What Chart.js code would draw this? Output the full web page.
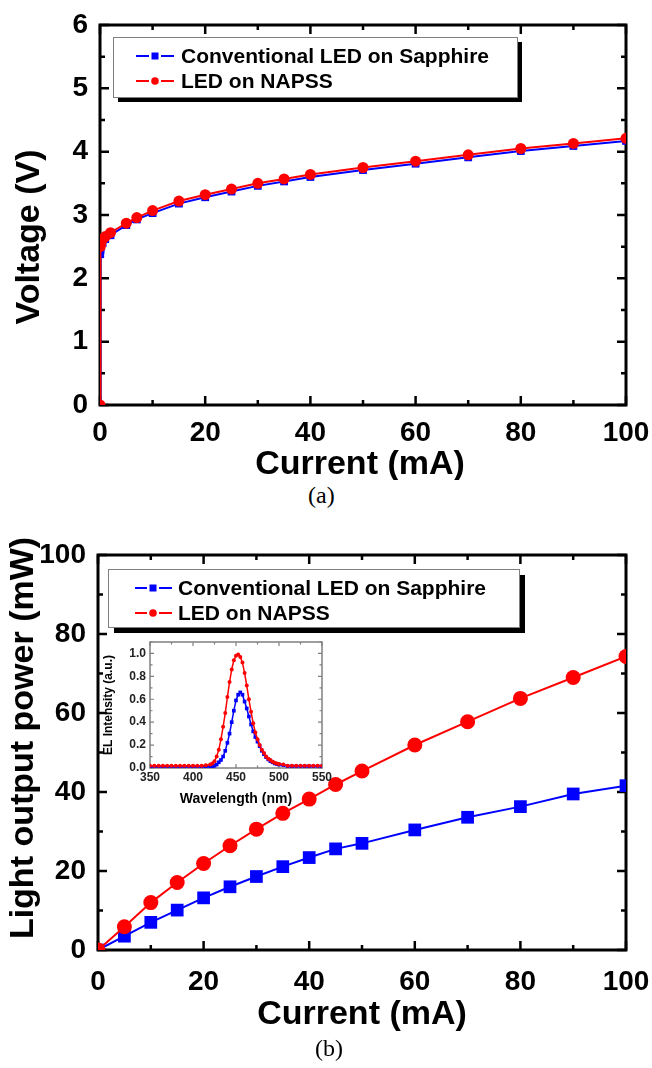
<!DOCTYPE html>
<html>
<head>
<meta charset="utf-8">
<script src="https://cdn.jsdelivr.net/npm/chart.js@4.4.0/dist/chart.umd.min.js"></script>
<style>
body { margin: 0; background: #fff; }
#page { position: relative; width: 652px; height: 1068px; overflow: hidden; }
canvas { position: absolute; }
.cap { position: absolute; font: 24px "Liberation Serif", "Times New Roman", serif; color: #000; }
</style>
</head>
<body>
<div id="page">
  <canvas id="ivChart" width="652" height="480" style="left:0;top:0"></canvas>
  <canvas id="liChart" width="652" height="520" style="left:0;top:520px"></canvas>
  <canvas id="elChart" width="240" height="180" style="left:95px;top:632px"></canvas>
  <div class="cap" style="left:308px;top:482px">(a)</div>
  <div class="cap" style="left:315px;top:1035px">(b)</div>
</div>
<script>
// (a) I-V
const currentIV = [0, 0.05, 0.1, 0.2, 0.5, 1, 2, 5, 7, 10, 15, 20, 25, 30, 35, 40, 50, 60, 70, 80, 90, 100];
const voltSapphire = [0, 2.38, 2.45, 2.50, 2.56, 2.62, 2.68, 2.84, 2.93, 3.03, 3.18, 3.28, 3.37, 3.46, 3.53, 3.60, 3.71, 3.81, 3.91, 4.01, 4.09, 4.17];
const voltNapss = [0, 2.50, 2.55, 2.58, 2.62, 2.66, 2.72, 2.87, 2.96, 3.07, 3.22, 3.32, 3.41, 3.50, 3.57, 3.64, 3.75, 3.85, 3.95, 4.05, 4.13, 4.21];

// (b) L-I
const currentLI = [0, 5, 10, 15, 20, 25, 30, 35, 40, 45, 50, 60, 70, 80, 90, 100];
const powerSapphire = [0, 3.5, 7.0, 10.1, 13.2, 16.0, 18.6, 21.1, 23.4, 25.6, 27.0, 30.4, 33.6, 36.3, 39.5, 41.6];
const powerNapss = [0, 5.9, 12.0, 17.1, 21.9, 26.4, 30.6, 34.6, 38.2, 41.9, 45.3, 51.9, 57.8, 63.7, 69.0, 74.3];

// inset EL spectrum
const wavelength = [350, 355, 360, 365, 370, 375, 380, 385, 390, 395, 400, 405, 410, 415, 420,
  422.5, 425, 427.5, 430, 432.5, 435, 437.5, 440, 442.5, 445, 447.5, 450, 452.5, 455, 457.5, 460,
  462.5, 465, 467.5, 470, 472.5, 475, 477.5, 480, 482.5, 485, 487.5, 490, 492.5, 495, 497.5, 500,
  505, 510, 515, 520, 525, 530, 535, 540, 545, 550];
const elSapphire = [0.01, 0.01, 0.01, 0.01, 0.01, 0.01, 0.01, 0.01, 0.01, 0.01, 0.01, 0.01, 0.01, 0.01, 0.012,
  0.015, 0.02, 0.03, 0.05, 0.07, 0.10, 0.15, 0.22, 0.30, 0.40, 0.50, 0.59, 0.64, 0.66, 0.64, 0.58,
  0.52, 0.45, 0.38, 0.32, 0.27, 0.23, 0.19, 0.15, 0.12, 0.095, 0.075, 0.06, 0.05, 0.04, 0.035, 0.03,
  0.025, 0.015, 0.015, 0.015, 0.015, 0.015, 0.015, 0.015, 0.015, 0.015];
const elNapss = [0.02, 0.02, 0.02, 0.02, 0.02, 0.02, 0.02, 0.02, 0.02, 0.02, 0.02, 0.02, 0.02, 0.025, 0.03,
  0.04, 0.06, 0.10, 0.16, 0.25, 0.36, 0.48, 0.62, 0.75, 0.86, 0.94, 0.98, 0.99, 0.97, 0.92, 0.83,
  0.72, 0.60, 0.49, 0.39, 0.31, 0.25, 0.20, 0.16, 0.13, 0.10, 0.08, 0.07, 0.055, 0.045, 0.04, 0.035,
  0.03, 0.02, 0.02, 0.02, 0.02, 0.02, 0.02, 0.02, 0.02, 0.02];

const BLUE = '#0000ff';
const RED = '#ff0000';
const FONT = '"Liberation Sans", Arial, sans-serif';

const pts = (xs, ys) => xs.map((x, i) => ({ x: x, y: ys[i] }));

// frame + inward ticks under the data, titles + boxed legend on top
const boxPlugin = {
  id: 'box',
  beforeDatasetsDraw(chart, args, o) {
    const ctx = chart.ctx;
    const a = chart.chartArea;
    const x = chart.scales.x, y = chart.scales.y;
    ctx.save();
    ctx.strokeStyle = o.color;
    ctx.lineWidth = o.tick;
    ctx.beginPath();
    x.ticks.forEach(t => {
      const px = x.getPixelForValue(t.value);
      const len = t.label !== '' ? o.major : o.minor;
      ctx.moveTo(px, a.bottom); ctx.lineTo(px, a.bottom - len);
      ctx.moveTo(px, a.top); ctx.lineTo(px, a.top + len);
    });
    y.ticks.forEach(t => {
      const py = y.getPixelForValue(t.value);
      const len = t.label !== '' ? o.major : o.minor;
      ctx.moveTo(a.left, py); ctx.lineTo(a.left + len, py);
      ctx.moveTo(a.right, py); ctx.lineTo(a.right - len, py);
    });
    ctx.stroke();
    ctx.lineWidth = o.frame;
    ctx.strokeRect(a.left, a.top, a.right - a.left, a.bottom - a.top);
    ctx.restore();
  },
  afterDraw(chart, args, o) {
    const ctx = chart.ctx;
    ctx.save();
    ctx.fillStyle = '#000';
    ctx.textAlign = 'center';
    ctx.textBaseline = 'middle';
    o.titles.forEach(t => {
      ctx.save();
      ctx.font = t.font;
      ctx.translate(t.x, t.y);
      if (t.rot) ctx.rotate(-Math.PI / 2);
      ctx.fillText(t.text, 0, 0);
      ctx.restore();
    });

    const L = o.legend;
    if (L) {
      ctx.fillStyle = '#000';
      ctx.fillRect(L.x + L.shadow, L.y + L.shadow, L.w, L.h);
      ctx.fillStyle = '#fff';
      ctx.fillRect(L.x, L.y, L.w, L.h);
      ctx.strokeStyle = '#808080';
      ctx.lineWidth = 1;
      ctx.strokeRect(L.x + 0.5, L.y + 0.5, L.w, L.h);
      chart.data.datasets.forEach((ds, i) => {
        const yy = L.rows[i];
        ctx.strokeStyle = ds.borderColor;
        ctx.lineWidth = 2;
        ctx.beginPath();
        ctx.moveTo(L.x1, yy); ctx.lineTo(L.mx - 6, yy);
        ctx.moveTo(L.mx + 6, yy); ctx.lineTo(L.x2, yy);
        ctx.stroke();
        ctx.fillStyle = ds.borderColor;
        if (ds.pointStyle === 'rect') {
          ctx.fillRect(L.mx - 3.5, yy - 3.5, 7, 7);
        } else {
          ctx.beginPath(); ctx.arc(L.mx, yy, 3.8, 0, Math.PI * 2); ctx.fill();
        }
        ctx.fillStyle = '#000';
        ctx.font = L.font;
        ctx.textAlign = 'left';
        ctx.fillText(ds.label, L.tx, yy + 1);
      });
    }
    ctx.restore();
  }
};

function series(label, data, color, style, r, bw, order) {
  return {
    label: label, data: data, borderColor: color, backgroundColor: color,
    pointStyle: style, pointRadius: r, pointHoverRadius: r, pointBorderWidth: 0,
    borderWidth: bw, tension: 0, order: order
  };
}

function axes(xo, yo) {
  const base = (s, fit, key) => ({
    type: 'linear', min: s.min, max: s.max,
    grid: { display: false, drawTicks: false }, border: { display: false },
    afterFit: sc => {
      sc[key] = fit;
      sc.paddingLeft = 0; sc.paddingRight = 0; sc.paddingTop = 0; sc.paddingBottom = 0;
    },
    ticks: {
      stepSize: s.step, autoSkip: false, maxRotation: 0, padding: s.pad, color: s.color || '#000',
      font: { family: FONT, size: s.size, weight: 'bold' },
      callback: s.label
    }
  });
  return { x: base(xo, xo.fit, 'height'), y: base(yo, yo.fit, 'width') };
}

const every = n => v => (Math.abs(v / n - Math.round(v / n)) < 1e-6 ? String(Math.round(v)) : '');

Chart.defaults.animation = false;

new Chart(document.getElementById('ivChart'), {
  type: 'line',
  data: {
    datasets: [
      series('Conventional LED on Sapphire', pts(currentIV, voltSapphire), BLUE, 'rect', 5.5, 2, 1),
      series('LED on NAPSS', pts(currentIV, voltNapss), RED, 'circle', 5.5, 2, 0)
    ]
  },
  options: {
    responsive: false,
    layout: { padding: { top: 25, right: 26, left: 0, bottom: 0 } },
    scales: axes(
      { min: 0, max: 100, step: 10, pad: 11, size: 28, fit: 75, label: every(20) },
      { min: 0, max: 6, step: 0.5, pad: 12, size: 28, fit: 100, label: every(1) }
    ),
    plugins: {
      legend: { display: false },
      tooltip: { enabled: false },
      box: {
        color: '#000', frame: 3, tick: 2.5, major: 9, minor: 5,
        titles: [
          { text: 'Voltage (V)', x: 30, y: 237, rot: true, font: 'bold 34px ' + FONT },
          { text: 'Current (mA)', x: 360, y: 465, font: 'bold 34px ' + FONT }
        ],
        legend: { x: 113, y: 37, w: 404, h: 60, shadow: 5, rows: [56, 81],
          x1: 136, x2: 174, mx: 155, tx: 181, font: 'bold 21px ' + FONT }
      }
    }
  },
  plugins: [boxPlugin]
});

new Chart(document.getElementById('liChart'), {
  type: 'line',
  data: {
    datasets: [
      series('Conventional LED on Sapphire', pts(currentLI, powerSapphire), BLUE, 'rect', 9, 2, 1),
      series('LED on NAPSS', pts(currentLI, powerNapss), RED, 'circle', 7.5, 2, 0)
    ]
  },
  options: {
    responsive: false,
    layout: { padding: { top: 35, right: 26, left: 0, bottom: 0 } },
    scales: axes(
      { min: 0, max: 100, step: 10, pad: 15, size: 28, fit: 90, label: every(20) },
      { min: 0, max: 100, step: 10, pad: 12, size: 28, fit: 98, label: every(20) }
    ),
    plugins: {
      legend: { display: false },
      tooltip: { enabled: false },
      box: {
        color: '#000', frame: 3, tick: 2.5, major: 9, minor: 5,
        titles: [
          { text: 'Light output power (mW)', x: 24, y: 218, rot: true, font: 'bold 34px ' + FONT },
          { text: 'Current (mA)', x: 362, y: 495, font: 'bold 34px ' + FONT }
        ],
        legend: { x: 108, y: 49, w: 411, h: 58, shadow: 6, rows: [68, 93],
          x1: 135, x2: 172, mx: 153, tx: 178, font: 'bold 21px ' + FONT }
      }
    }
  },
  plugins: [boxPlugin]
});

new Chart(document.getElementById('elChart'), {
  type: 'line',
  data: {
    datasets: [
      series('Conventional LED on Sapphire', pts(wavelength, elSapphire), BLUE, 'rect', 2.6, 1.5, 1),
      series('LED on NAPSS', pts(wavelength, elNapss), RED, 'circle', 2, 1.5, 0)
    ]
  },
  options: {
    responsive: false,
    layout: { padding: { top: 10, right: 13, left: 0, bottom: 0 } },
    scales: axes(
      { min: 350, max: 550, step: 25, pad: 2, size: 12, fit: 44, color: '#222', label: every(50) },
      { min: 0, max: 1.1, step: 0.1, pad: 4, size: 12, fit: 55, color: '#222',
        label: v => { const k = Math.round(v * 10); return (k % 2 === 0 && k <= 10) ? (k / 10).toFixed(1) : ''; } }
    ),
    plugins: {
      legend: { display: false },
      tooltip: { enabled: false },
      box: {
        color: '#808080', frame: 1.5, tick: 1.2, major: 4, minor: 2.5,
        titles: [
          { text: 'EL Intensity (a.u.)', x: 14, y: 73, rot: true, font: 'bold 12px ' + FONT },
          { text: 'Wavelength (nm)', x: 141, y: 167, font: 'bold 14px ' + FONT }
        ]
      }
    }
  },
  plugins: [boxPlugin]
});
</script>
</body>
</html>
